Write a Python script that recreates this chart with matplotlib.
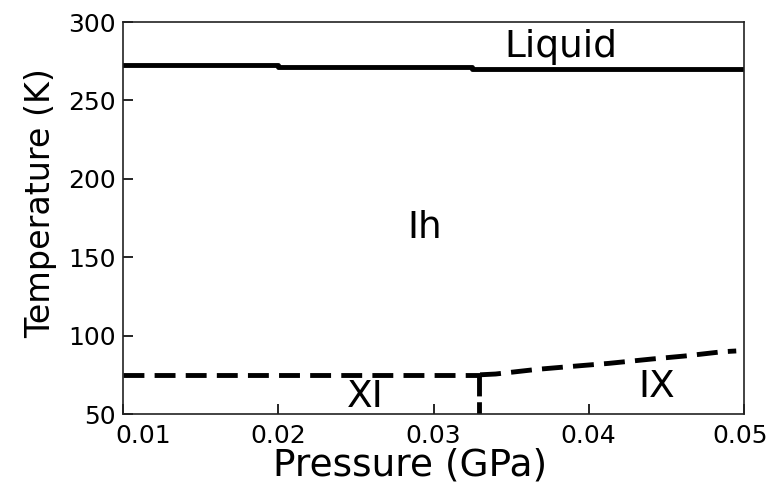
import matplotlib
matplotlib.use("Agg")
import matplotlib.pyplot as plt
from matplotlib.transforms import ScaledTranslation

plt.rcParams["font.family"] = ["DejaVu Sans"]

# melting line (Ih / Liquid)
melt_p = [0.01, 0.02, 0.02, 0.0325, 0.0325, 0.05]
melt_t = [272.3, 272.3, 271.0, 271.0, 270.0, 270.0]

# Ih / XI boundary
xi_p = [0.01, 0.033]
xi_t = [75, 75]

# XI / IX boundary (vertical)
xi_ix_p = [0.0329, 0.0329]
xi_ix_t = [75, 50]

# Ih / IX boundary
ix_p = [0.033, 0.0340, 0.0367, 0.0392, 0.0413, 0.0441, 0.0462, 0.0486, 0.0495]
ix_t = [75.0, 75.5, 78.5, 80.6, 82.3, 85.1, 87.0, 89.7, 90.2]

phase_labels = ["Liquid", "Ih", "XI", "IX"]
label_p = [0.0382, 0.02945, 0.0256, 0.0444]
label_t = [277.7, 162.2, 54.5, 60.8]

xticks = [0.01, 0.02, 0.03, 0.04, 0.05]
xtick_labels = ["0.01", "0.02", "0.03", "0.04", "0.05"]
yticks = [50, 100, 150, 200, 250, 300]

fig = plt.figure(figsize=(7.71, 4.86), dpi=100)
ax = fig.add_axes([123 / 771, 1 - 414 / 486, 621 / 771, 392 / 486])

ax.plot(melt_p, melt_t, color="black", lw=3.5)
ax.plot(xi_p, xi_t, color="black", lw=3.5, dashes=(4.3, 2.1))
ax.plot(xi_ix_p, xi_ix_t, color="black", lw=3.5, dashes=(4.3, 1.2))
ax.plot(ix_p, ix_t, color="black", lw=3.5, dashes=(4.3, 2.1))

for name, p, t in zip(phase_labels, label_p, label_t):
    ax.text(p, t, name, fontsize=27, ha="center", va="baseline")

ax.set_xlim(0.01, 0.05)
ax.set_ylim(50, 300)
ax.set_xticks(xticks)
ax.set_xticklabels(xtick_labels)
ax.set_yticks(yticks)
ax.tick_params(direction="in", length=7.5, labelsize=18, width=1.2)
ax.tick_params(axis="x", pad=7)
ax.tick_params(axis="y", pad=5)
for s in ax.spines.values():
    s.set_linewidth(1.2)
    s.set_color("#222222")

# nudge the end tick labels like the original
labels = ax.get_xticklabels()
labels[0].set_transform(labels[0].get_transform() + ScaledTranslation(0.20, 0, fig.dpi_scale_trans))
labels[-1].set_transform(labels[-1].get_transform() + ScaledTranslation(-0.04, 0, fig.dpi_scale_trans))

ax.set_xlabel("Pressure (GPa)", fontsize=27)
ax.xaxis.label.set_va("baseline")
ax.xaxis.set_label_coords(0.462, -0.158)

ax.set_ylabel("Temperature (K)", fontsize=24)
ax.yaxis.label.set_va("baseline")
ax.yaxis.set_label_coords(-0.1176, 0.538)

fig.savefig("out.png", dpi=100)
